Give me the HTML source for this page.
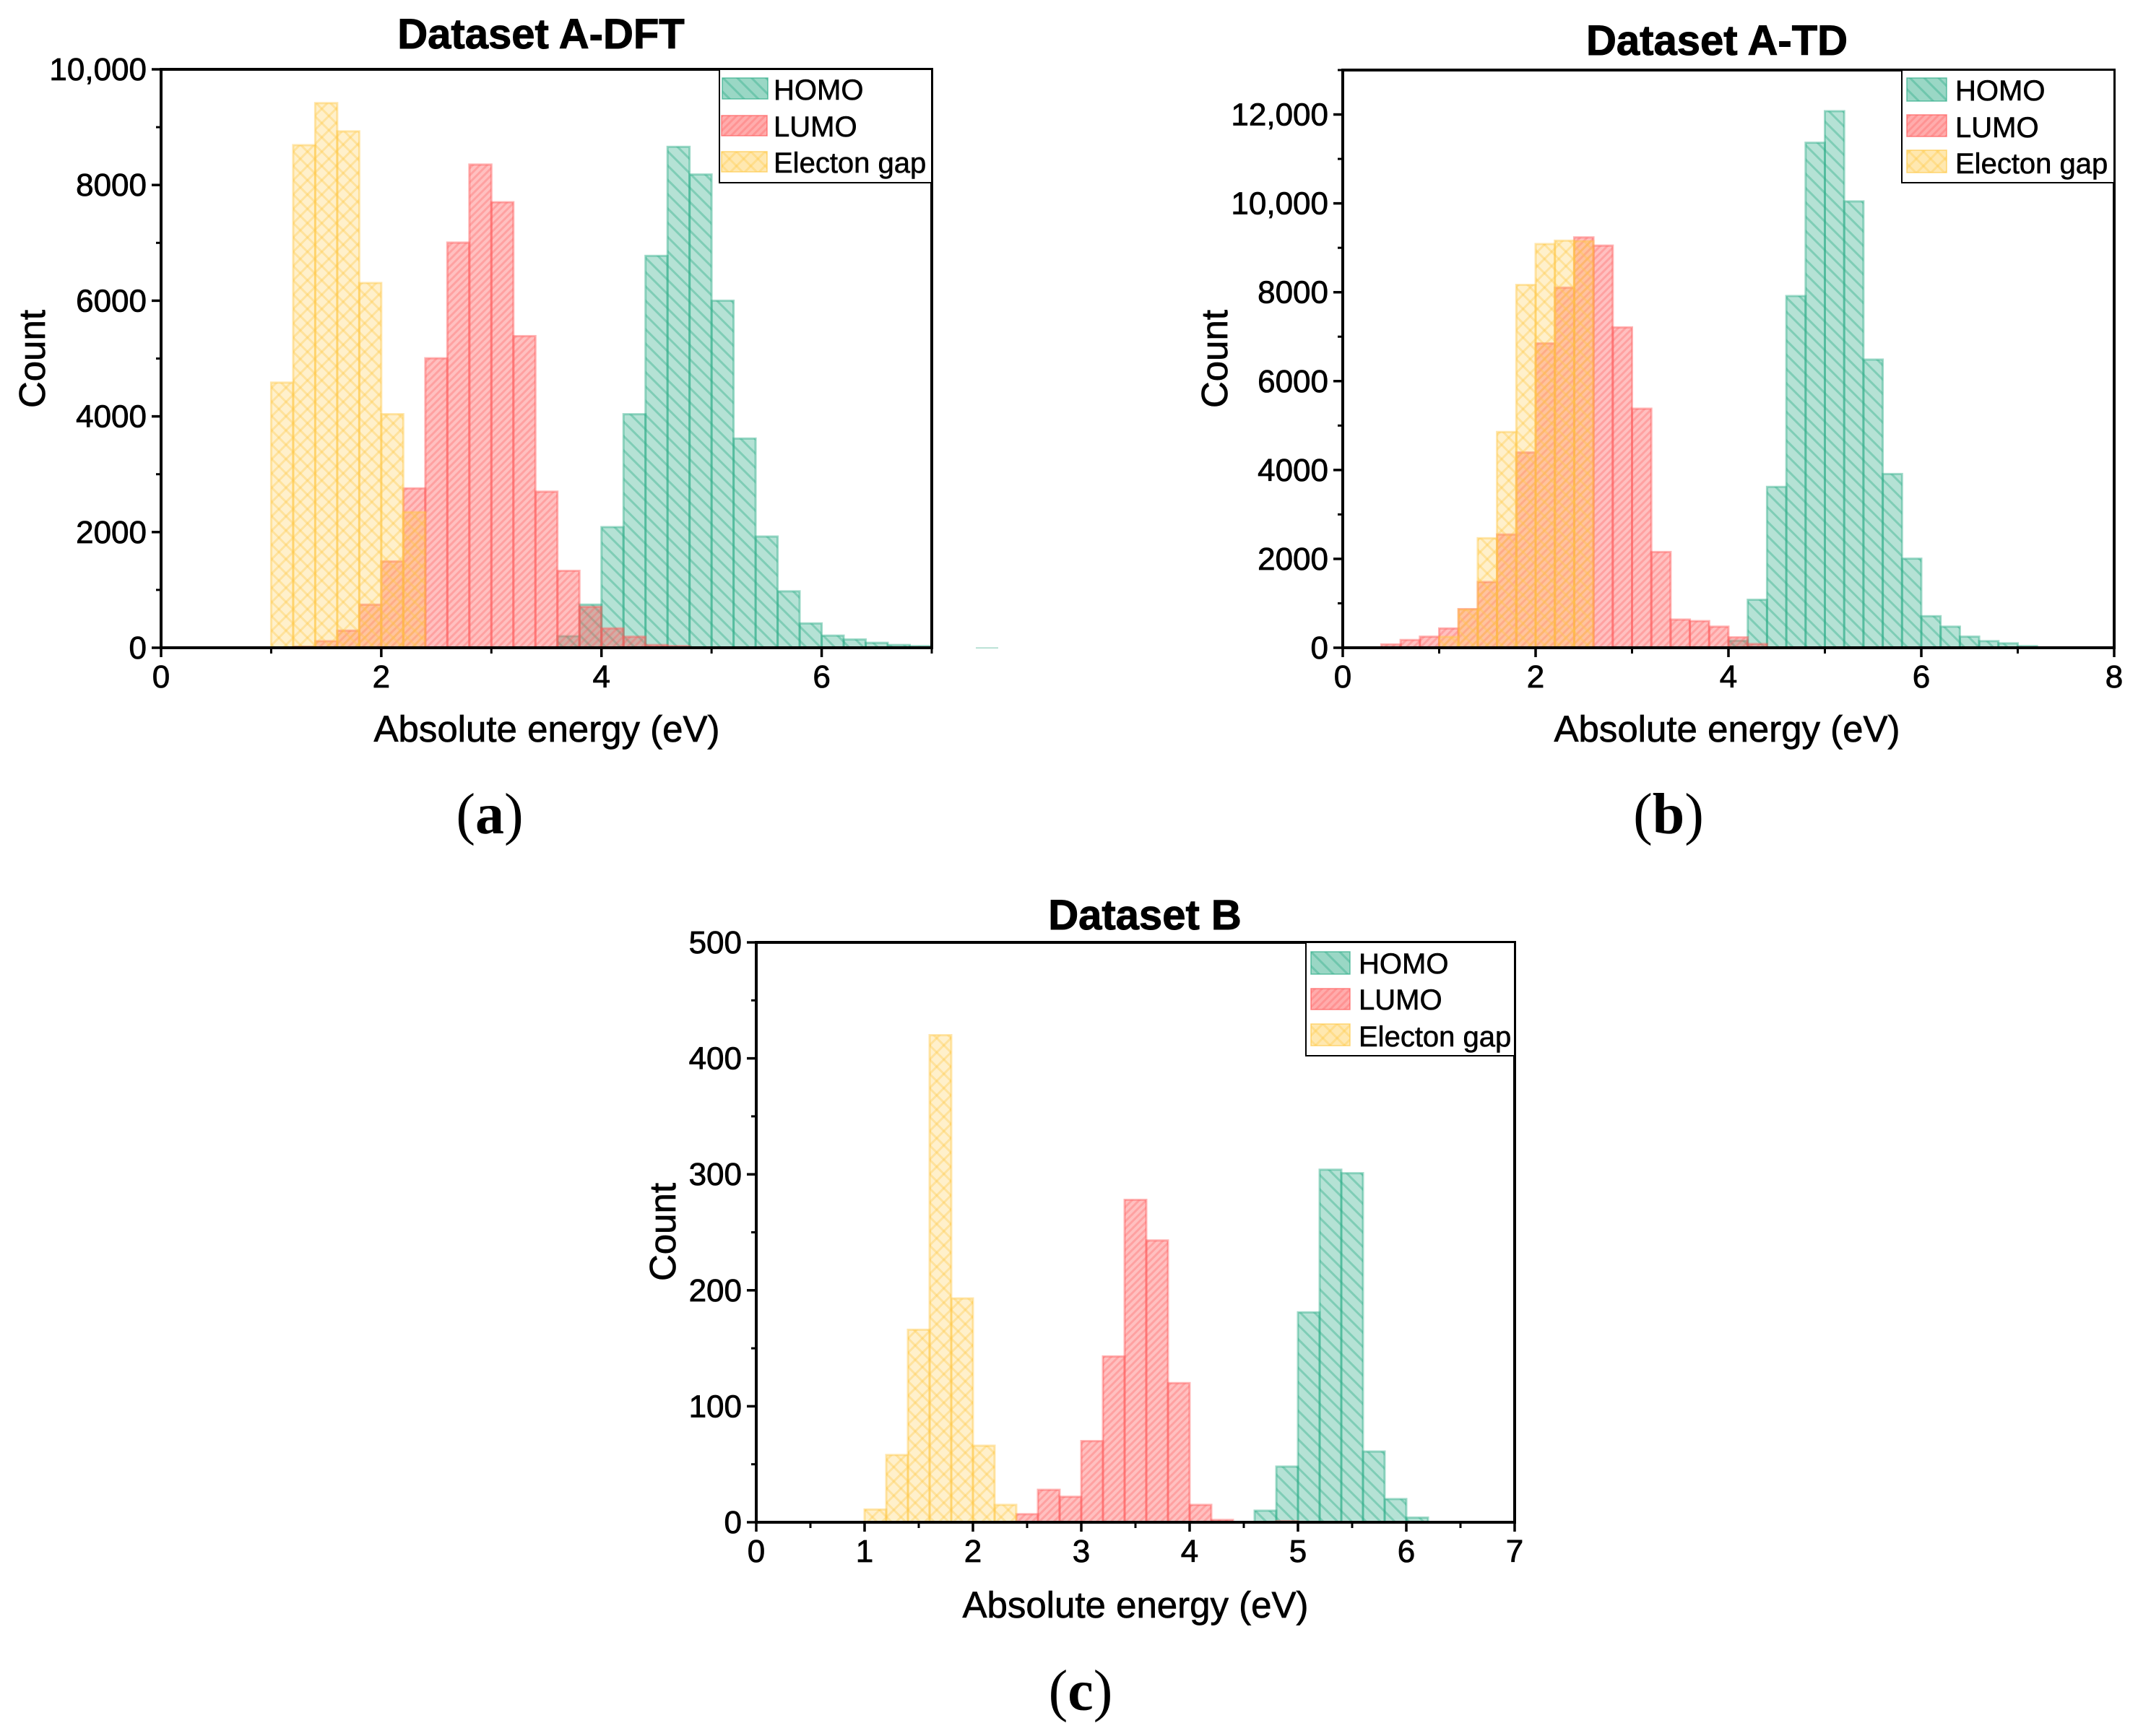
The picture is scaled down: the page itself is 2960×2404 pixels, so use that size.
<!DOCTYPE html>
<html lang="en">
<head>
<meta charset="utf-8">
<title>Absolute energy histograms</title>
<style>
html,body{margin:0;padding:0;background:#fff;}
svg{display:block;}
text{font-family:"Liberation Sans",Arial,sans-serif;fill:#000;}
.title{font-size:58px;font-weight:700;text-anchor:middle;stroke:#000;stroke-width:1px;}
.xlabel{font-size:51px;text-anchor:middle;stroke:#000;stroke-width:.7px;}
.ylabel{font-size:51px;text-anchor:middle;stroke:#000;stroke-width:.7px;}
.tick{font-size:44px;stroke:#000;stroke-width:.8px;}
.leg{font-size:40px;stroke:#000;stroke-width:.6px;}
.cap{font-family:"Liberation Serif",serif;font-size:80px;text-anchor:middle;}
.cap .ltr{font-weight:700;}
</style>
</head>
<body>
<svg id="figure" xmlns="http://www.w3.org/2000/svg" width="2960" height="2404" viewBox="0 0 2960 2404">
<defs>
<pattern id="hatch-homo" patternUnits="userSpaceOnUse" width="14" height="14" patternTransform="rotate(-45)">
<rect width="14" height="14" fill="rgba(44,172,135,.35)"/>
<rect x="0" width="3" height="14" fill="rgba(44,172,135,.4)"/>
</pattern>
<pattern id="hatch-lumo" patternUnits="userSpaceOnUse" width="7" height="7" patternTransform="rotate(45)">
<rect width="7" height="7" fill="rgba(255,90,90,.38)"/>
<rect x="0" width="3" height="7" fill="rgba(255,90,90,.3)"/>
</pattern>
<pattern id="hatch-gap" patternUnits="userSpaceOnUse" width="14" height="14" patternTransform="rotate(45)">
<rect width="14" height="14" fill="rgba(255,200,70,.28)"/>
<rect x="0" width="3" height="14" fill="rgba(255,200,70,.35)"/>
<rect y="0" width="14" height="3" fill="rgba(255,200,70,.35)"/>
</pattern>
</defs>

<g id="panel-a">
<text class="title" x="749" y="67">Dataset A-DFT</text>
<g id="panel-a-bars"></g>
<g id="panel-a-axes"></g>
<rect x="1351" y="896.5" width="31" height="1.5" fill="#a5d8c8"/>
<text class="xlabel" x="757" y="1027">Absolute energy (eV)</text>
<text class="ylabel" transform="translate(62,497) rotate(-90)">Count</text>
<g>
<rect x="996" y="96" width="294" height="157" fill="#fff" stroke="#000" stroke-width="2"/>
<rect x="1000" y="108" width="63" height="29" fill="rgba(44,172,135,.2)"/>
<rect x="1000" y="108" width="63" height="29" fill="url(#hatch-homo)" stroke="rgba(44,172,135,.7)" stroke-width="1.5"/>
<rect x="999" y="160" width="63" height="28" fill="rgba(255,90,90,.2)"/>
<rect x="999" y="160" width="63" height="28" fill="url(#hatch-lumo)" stroke="rgba(255,90,90,.7)" stroke-width="1.5"/>
<rect x="999" y="210" width="63" height="28" fill="rgba(255,200,70,.2)"/>
<rect x="999" y="210" width="63" height="28" fill="url(#hatch-gap)" stroke="rgba(255,200,70,.7)" stroke-width="1.5"/>
<text class="leg" x="1071" y="138">HOMO</text>
<text class="leg" x="1071" y="189">LUMO</text>
<text class="leg" x="1071" y="239">Electon gap</text>
</g>
<text class="cap" x="678" y="1154">(<tspan class="ltr">a</tspan>)</text>
</g>

<g id="panel-b">
<text class="title" x="2377" y="76">Dataset A-TD</text>
<g id="panel-b-bars"></g>
<g id="panel-b-axes"></g>
<text class="xlabel" x="2391" y="1027">Absolute energy (eV)</text>
<text class="ylabel" transform="translate(1699,497) rotate(-90)">Count</text>
<g>
<rect x="2633" y="97" width="294" height="156" fill="#fff" stroke="#000" stroke-width="2"/>
<rect x="2640" y="108" width="55" height="32" fill="rgba(44,172,135,.2)"/>
<rect x="2640" y="108" width="55" height="32" fill="url(#hatch-homo)" stroke="rgba(44,172,135,.7)" stroke-width="1.5"/>
<rect x="2640" y="159" width="55" height="30" fill="rgba(255,90,90,.2)"/>
<rect x="2640" y="159" width="55" height="30" fill="url(#hatch-lumo)" stroke="rgba(255,90,90,.7)" stroke-width="1.5"/>
<rect x="2640" y="208" width="55" height="31" fill="rgba(255,200,70,.2)"/>
<rect x="2640" y="208" width="55" height="31" fill="url(#hatch-gap)" stroke="rgba(255,200,70,.7)" stroke-width="1.5"/>
<text class="leg" x="2707" y="139">HOMO</text>
<text class="leg" x="2707" y="190">LUMO</text>
<text class="leg" x="2707" y="240">Electon gap</text>
</g>
<text class="cap" x="2310" y="1154">(<tspan class="ltr">b</tspan>)</text>
</g>

<g id="panel-c">
<text class="title" x="1585" y="1287">Dataset B</text>
<g id="panel-c-bars"></g>
<g id="panel-c-axes"></g>
<text class="xlabel" x="1572" y="2240">Absolute energy (eV)</text>
<text class="ylabel" transform="translate(935,1706) rotate(-90)">Count</text>
<g>
<rect x="1808" y="1305" width="289" height="157" fill="#fff" stroke="#000" stroke-width="2"/>
<rect x="1815" y="1318" width="54" height="31" fill="rgba(44,172,135,.2)"/>
<rect x="1815" y="1318" width="54" height="31" fill="url(#hatch-homo)" stroke="rgba(44,172,135,.7)" stroke-width="1.5"/>
<rect x="1815" y="1369" width="54" height="29" fill="rgba(255,90,90,.2)"/>
<rect x="1815" y="1369" width="54" height="29" fill="url(#hatch-lumo)" stroke="rgba(255,90,90,.7)" stroke-width="1.5"/>
<rect x="1815" y="1418" width="54" height="30" fill="rgba(255,200,70,.2)"/>
<rect x="1815" y="1418" width="54" height="30" fill="url(#hatch-gap)" stroke="rgba(255,200,70,.7)" stroke-width="1.5"/>
<text class="leg" x="1881" y="1348">HOMO</text>
<text class="leg" x="1881" y="1398">LUMO</text>
<text class="leg" x="1881" y="1449">Electon gap</text>
</g>
<text class="cap" x="1496" y="2368">(<tspan class="ltr">c</tspan>)</text>
</g>
</svg>

<script>
const binWidth = 0.2;

/* Dataset A-DFT */
const dftHomoFirstBin = 3.6;
const dftHomo = [200,746,2086,4038,6775,8660,8182,6000,3617,1923,976,421,210,143,86,48,29];
const dftLumoFirstBin = 1.2;
const dftLumo = [20,115,297,746,1493,2756,5005,7005,8354,7703,5388,2699,1330,708,335,191,48,29];
const dftGapFirstBin = 1.0;
const dftGap = [4584,8689,9416,8928,6306,4038,2344];
const dftXTicks = [0,2,4,6];
const dftXLabels = ['0','2','4','6'];
const dftXMinor = [1,3,5,7];
const dftYTicks = [0,2000,4000,6000,8000,10000];
const dftYLabels = ['0','2000','4000','6000','8000','10,000'];
const dftYMinor = [1000,3000,5000,7000,9000];

/* Dataset A-TD */
const tdHomoFirstBin = 4.0;
const tdHomo = [160,1080,3620,7915,11365,12075,10045,6485,3910,2005,710,475,250,150,100,37];
const tdLumoFirstBin = 0.4;
const tdLumo = [75,175,250,435,870,1480,2550,4395,6850,8105,9235,9050,7210,5380,2155,635,600,475,235,85];
const tdGapFirstBin = 1.0;
const tdGap = [245,860,2465,4855,8165,9085,9160,9150];
const tdXTicks = [0,2,4,6,8];
const tdXLabels = ['0','2','4','6','8'];
const tdXMinor = [1,3,5,7];
const tdYTicks = [0,2000,4000,6000,8000,10000,12000];
const tdYLabels = ['0','2000','4000','6000','8000','10,000','12,000'];
const tdYMinor = [1000,3000,5000,7000,9000,11000,13000];

/* Dataset B */
const bHomoFirstBin = 4.6;
const bHomo = [10,48,181,304,301,61,20,4];
const bLumoFirstBin = 2.4;
const bLumo = [7,28,22,70,143,278,243,120,15,2,0,0,1];
const bGapFirstBin = 1.0;
const bGap = [11,58,166,420,193,66,15];
const bXTicks = [0,1,2,3,4,5,6,7];
const bXLabels = ['0','1','2','3','4','5','6','7'];
const bXMinor = [0.5,1.5,2.5,3.5,4.5,5.5,6.5];
const bYTicks = [0,100,200,300,400,500];
const bYLabels = ['0','100','200','300','400','500'];
const bYMinor = [50,150,250,350,450];

const NS = 'http://www.w3.org/2000/svg';

function node(tag, parent, props) {
  const el = document.createElementNS(NS, tag);
  for (const k in props) el.setAttribute(k, props[k]);
  parent.appendChild(el);
  return el;
}

function drawBars(group, values, firstBin, xScale, yScale, fill, stroke, name) {
  values.forEach(function (v, i) {
    const lo = firstBin + i * binWidth;
    const x0 = xScale(lo);
    const x1 = xScale(lo + binWidth);
    const y = yScale(v);
    const r = node('rect', group, {x: x0, y: y, width: x1 - x0, height: yScale(0) - y, fill: fill, stroke: stroke, 'stroke-width': 3});
    
    
  });
}

function drawPanel(id, geo, s) {
  const xScale = function (v) { return geo.left + (geo.right - geo.left) * v / geo.xMax; };
  const yScale = function (v) { return geo.base - (geo.base - geo.top) * v / geo.yMax; };
  const bars = document.getElementById(id + '-bars');
  const axes = document.getElementById(id + '-axes');

  drawBars(bars, s.homo, s.homoFirst, xScale, yScale, 'url(#hatch-homo)', 'rgba(44,172,135,.45)', 'bar-homo');
  drawBars(bars, s.lumo, s.lumoFirst, xScale, yScale, 'url(#hatch-lumo)', 'rgba(255,90,90,.45)', 'bar-lumo');
  drawBars(bars, s.gap, s.gapFirst, xScale, yScale, 'url(#hatch-gap)', 'rgba(255,200,70,.45)', 'bar-electron-gap');

  const frame = node('path', axes, {
    d: 'M' + geo.left + ' ' + geo.base + 'V' + geo.top + 'H' + geo.right + 'V' + geo.base + 'Z',
    fill: 'none', stroke: '#000', 'stroke-width': 4
  });
  
  

  s.xTicks.forEach(function (v, i) {
    const t = node('line', axes, {x1: xScale(v), x2: xScale(v), y1: geo.base, y2: geo.base + 13, stroke: '#000', 'stroke-width': 3.5});
    
    
    const l = node('text', axes, {x: xScale(v), y: geo.base + 55, 'text-anchor': 'middle', class: 'tick'});
    
    
    l.textContent = s.xLabels[i];
  });
  s.xMinor.forEach(function (v) {
    const t = node('line', axes, {x1: xScale(v), x2: xScale(v), y1: geo.base, y2: geo.base + 8, stroke: '#000', 'stroke-width': 3});
    
    
  });
  s.yTicks.forEach(function (v, i) {
    const t = node('line', axes, {x1: geo.left - 13, x2: geo.left, y1: yScale(v), y2: yScale(v), stroke: '#000', 'stroke-width': 3.5});
    
    
    const l = node('text', axes, {x: geo.left - 20, y: yScale(v) + 15, 'text-anchor': 'end', class: 'tick'});
    
    
    l.textContent = s.yLabels[i];
  });
  s.yMinor.forEach(function (v) {
    const t = node('line', axes, {x1: geo.left - 7, x2: geo.left, y1: yScale(v), y2: yScale(v), stroke: '#000', 'stroke-width': 3});
    
    
  });
}

drawPanel('panel-a', {left: 223, right: 1290, top: 96, base: 897, xMax: 7, yMax: 10000}, {
  homo: dftHomo, homoFirst: dftHomoFirstBin,
  lumo: dftLumo, lumoFirst: dftLumoFirstBin,
  gap: dftGap, gapFirst: dftGapFirstBin,
  xTicks: dftXTicks, xLabels: dftXLabels, xMinor: dftXMinor,
  yTicks: dftYTicks, yLabels: dftYLabels, yMinor: dftYMinor
});
drawPanel('panel-b', {left: 1859, right: 2927, top: 97, base: 897, xMax: 8, yMax: 13000}, {
  homo: tdHomo, homoFirst: tdHomoFirstBin,
  lumo: tdLumo, lumoFirst: tdLumoFirstBin,
  gap: tdGap, gapFirst: tdGapFirstBin,
  xTicks: tdXTicks, xLabels: tdXLabels, xMinor: tdXMinor,
  yTicks: tdYTicks, yLabels: tdYLabels, yMinor: tdYMinor
});
drawPanel('panel-c', {left: 1047, right: 2097, top: 1305, base: 2108, xMax: 7, yMax: 500}, {
  homo: bHomo, homoFirst: bHomoFirstBin,
  lumo: bLumo, lumoFirst: bLumoFirstBin,
  gap: bGap, gapFirst: bGapFirstBin,
  xTicks: bXTicks, xLabels: bXLabels, xMinor: bXMinor,
  yTicks: bYTicks, yLabels: bYLabels, yMinor: bYMinor
});
</script>
</body>
</html>
